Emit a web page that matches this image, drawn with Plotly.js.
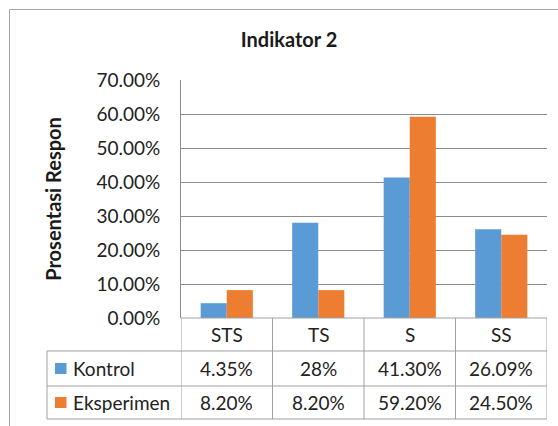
<!DOCTYPE html>
<html>
<head>
<meta charset="utf-8">
<script src="https://cdn.plot.ly/plotly-3.0.1.min.js"></script>
<style>
  html, body { margin: 0; padding: 0; background: #ffffff; }
  #chart { width: 558px; height: 426px; }
</style>
</head>
<body>
<div id="chart"></div>
<script>
// ---- data ----
const categories = ["STS", "TS", "S", "SS"];
const seriesNames = ["Kontrol", "Eksperimen"];
const kontrol = [0.0435, 0.28, 0.4130, 0.2609];
const eksperimen = [0.0820, 0.0820, 0.5920, 0.2450];
const kontrolLabels = ["4.35%", "28%", "41.30%", "26.09%"];
const eksperimenLabels = ["8.20%", "8.20%", "59.20%", "24.50%"];
const yTickVals = [0, 0.1, 0.2, 0.3, 0.4, 0.5, 0.6, 0.7];

// ---- styling ----
const colors = ["#5B9BD5", "#ED7D31"];
const FONT = "Lato, 'Open Sans', sans-serif";
const TXT = "#222222";
const GRID = "#8c8c8c";
const TBL = "#a0a0a0";
const FS = 19;

const W = 558, H = 426;
const L = 181, R = 547, T = 80, B = 318;
const px = p => (p - L) / (R - L);
const py = p => (B - p) / (B - T);

const rowY = [351, 386, 419];       // bottom of header, kontrol, eksperimen rows
const tableLeft = 47;

const shapes = [];
function line(x0, y0, x1, y1, color) {
  shapes.push({type: "line", xref: "paper", yref: "paper",
    x0: px(x0), y0: py(y0), x1: px(x1), y1: py(y1),
    line: {color: color, width: 1}});
}
// outer chart border
shapes.push({type: "rect", xref: "paper", yref: "paper",
  x0: px(9.5), y0: py(9.5), x1: px(640), y1: py(520),
  line: {color: "#a6a6a6", width: 1}, fillcolor: "rgba(0,0,0,0)", layer: "below"});

// table horizontal lines
rowY.forEach(y => line(tableLeft, y, R, y, TBL));
line(L, B, R, B, TBL);
// left edge of label column
line(tableLeft, rowY[0], tableLeft, rowY[2], TBL);
// column separators (category boundaries)
for (let i = 0; i <= categories.length; i++) {
  shapes.push({type: "line", xref: "x", yref: "paper",
    x0: i - 0.5, x1: i - 0.5, y0: py(B), y1: py(rowY[2]),
    line: {color: TBL, width: 1}});
}
// legend keys
const keyRows = [[rowY[0], rowY[1]], [rowY[1], rowY[2]]];
keyRows.forEach((r, k) => {
  const cy = (r[0] + r[1]) / 2;
  shapes.push({type: "rect", xref: "paper", yref: "paper",
    x0: px(55), x1: px(66.5), y0: py(cy - 5.5), y1: py(cy + 5.5),
    line: {width: 0}, fillcolor: colors[k]});
});

const annotations = [];
const headerCy = (B + rowY[0]) / 2;
categories.forEach((c, i) => {
  annotations.push({xref: "x", yref: "paper", x: i, y: py(headerCy),
    text: c, showarrow: false, xanchor: "center", yanchor: "middle",
    font: {family: FONT, size: FS, color: TXT}});
});
const rowsText = [kontrolLabels, eksperimenLabels];
rowsText.forEach((arr, k) => {
  const cy = (keyRows[k][0] + keyRows[k][1]) / 2;
  annotations.push({xref: "paper", yref: "paper", x: px(71), y: py(cy),
    text: seriesNames[k], showarrow: false, xanchor: "left", yanchor: "middle",
    font: {family: FONT, size: FS, color: TXT}});
  arr.forEach((t, i) => {
    annotations.push({xref: "x", yref: "paper", x: i, y: py(cy),
      text: t, showarrow: false, xanchor: "center", yanchor: "middle",
      font: {family: FONT, size: FS, color: TXT}});
  });
});

const traces = [
  {type: "bar", name: seriesNames[0], x: categories, y: kontrol,
   marker: {color: colors[0]}, hoverinfo: "skip"},
  {type: "bar", name: seriesNames[1], x: categories, y: eksperimen,
   marker: {color: colors[1]}, hoverinfo: "skip"}
];

const layout = {
  width: W, height: H,
  margin: {l: L, r: W - R, t: T, b: H - B, pad: 0},
  paper_bgcolor: "#ffffff", plot_bgcolor: "#ffffff",
  font: {family: FONT, color: TXT},
  showlegend: false,
  barmode: "group", bargap: 0.43, bargroupgap: 0,
  title: {text: "<b>Indikator 2</b>", x: 289 / W, xref: "container", xanchor: "center",
          y: 1 - 40 / H, yref: "container", yanchor: "middle",
          font: {family: FONT, size: 20, color: "#1a1a1a"}},
  xaxis: {type: "category", range: [-0.5, 3.5], showticklabels: false,
          showgrid: false, zeroline: false, showline: false, ticks: "", fixedrange: true},
  yaxis: {range: [0, 0.7], tickvals: yTickVals, tickformat: ".2%",
          showgrid: true, gridcolor: GRID, gridwidth: 1, zeroline: false,
          showline: true, linecolor: GRID, linewidth: 1, ticks: "",
          ticklabelstandoff: 16,
          tickfont: {family: FONT, size: FS, color: TXT},
          title: {text: "<b>Prosentasi Respon</b>", standoff: 29,
                  font: {family: FONT, size: 20, color: "#1a1a1a"}},
          fixedrange: true},
  shapes: shapes,
  annotations: annotations
};

Plotly.newPlot("chart", traces, layout, {staticPlot: true, displayModeBar: false});
</script>
</body>
</html>
